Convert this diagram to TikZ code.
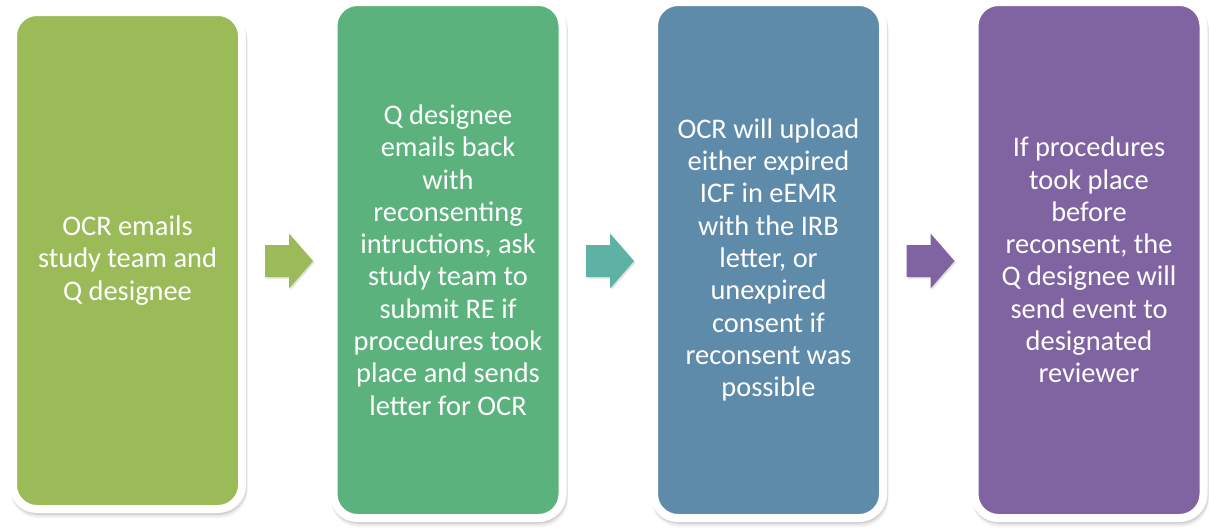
\documentclass[tikz,border=0pt]{standalone}
\usepackage{fontspec}
\setmainfont{Carlito}
\definecolor{stepA}{HTML}{9BBB59}
\definecolor{stepB}{HTML}{5BB27D}
\definecolor{stepC}{HTML}{5F8BAB}
\definecolor{stepD}{HTML}{8064A2}
\definecolor{arrA}{HTML}{9BBB59}
\definecolor{arrB}{HTML}{5DB1A5}
\definecolor{arrC}{HTML}{8064A2}
\tikzset{
  shadowlayer/.style={preaction={draw=black, fill=black, line width=8pt,
      opacity=#1, transform canvas={xshift=1pt, yshift=-3pt}}},
  card/.style={
    shadowlayer=0.05,
    preaction={draw=black, fill=black, line width=8pt, opacity=0.05,
      transform canvas={xshift=1.5pt, yshift=-5pt}},
    preaction={draw=black, fill=black, line width=8pt, opacity=0.05,
      transform canvas={xshift=1pt, yshift=-2pt}},
    draw=white, line width=8pt, rounded corners=24pt,
    minimum width=229pt, inner sep=0pt,
    text=white, align=center,
    font=\fontsize{28.4}{32.3}\selectfont},
  blockarrow/.pic={
    \fill[black, opacity=0.12] ([shift={(1.5,1.5)}]-24,-16) -- ([shift={(1.5,1.5)}]0,-16)
      -- ([shift={(1.5,1.5)}]0,-27.5) -- ([shift={(1.5,1.5)}]24,0)
      -- ([shift={(1.5,1.5)}]0,27.5) -- ([shift={(1.5,1.5)}]0,16)
      -- ([shift={(1.5,1.5)}]-24,16) -- cycle;
    \fill[pic actions] (-24,-16) -- (0,-16) -- (0,-27.5) -- (24,0)
      -- (0,27.5) -- (0,16) -- (-24,16) -- cycle;
  }
}
\begin{document}
\begin{tikzpicture}[x=1pt, y=-1pt]
  \useasboundingbox (0,0) rectangle (1209,528);

  \node[card, fill=stepA, minimum height=497pt] (s1) at (127.5,260.5)
    {OCR emails\\study team and\\Q designee};
  \node[card, fill=stepB, minimum height=516pt] (s2) at (448,260)
    {Q designee\\emails back\\with\\reconsenting\\intructions, ask\\study team to\\submit RE if\\procedures took\\place and sends\\letter for OCR};
  \node[card, fill=stepC, minimum height=516pt] (s3) at (768.5,260)
    {OCR will upload\\either expired\\ICF in eEMR\\with the IRB\\letter, or\\unexpired\\consent if\\reconsent was\\possible};
  \node[card, fill=stepD, minimum height=516pt] (s4) at (1089,260)
    {If procedures\\took place\\before\\reconsent, the\\Q designee will\\send event to\\designated\\reviewer};

  % block arrows between the steps
  \pic[fill=arrA] at (289,261) {blockarrow};
  \pic[fill=arrB] at (610,261) {blockarrow};
  \pic[fill=arrC] at (930.5,261) {blockarrow};
\end{tikzpicture}
\end{document}
